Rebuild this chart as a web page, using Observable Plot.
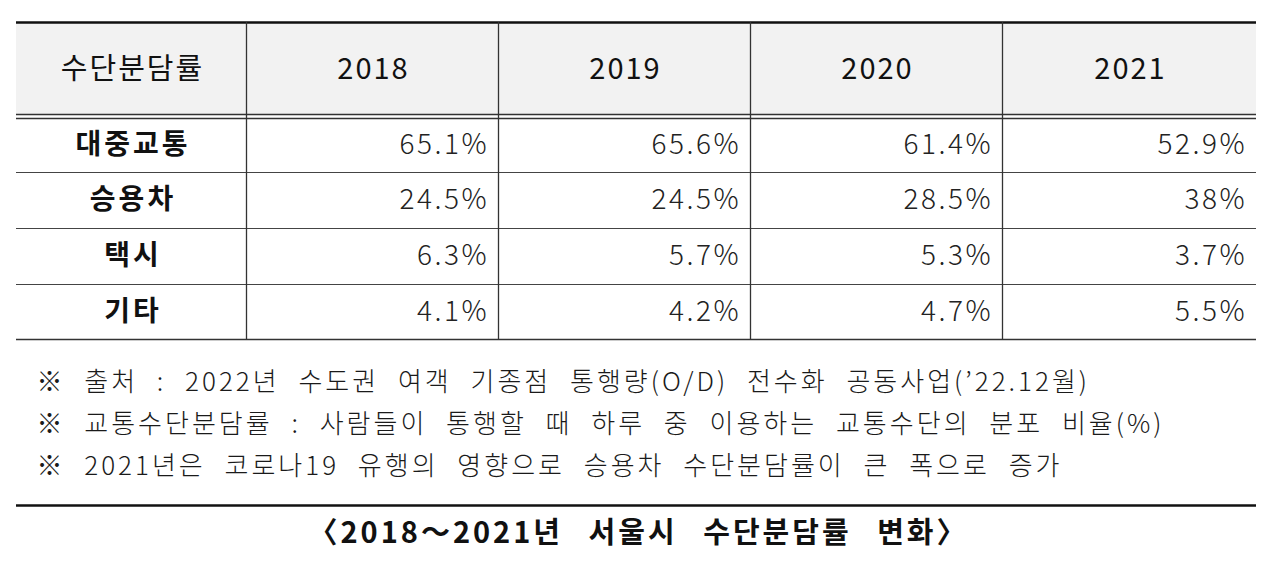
<!DOCTYPE html>
<html><head><meta charset="utf-8">
<script src="https://cdn.jsdelivr.net/npm/d3@7"></script>
<script src="https://cdn.jsdelivr.net/npm/@observablehq/plot@0.6"></script>
<style>html,body{margin:0;padding:0;background:#fff} svg{display:block}</style>
</head><body><div id="chart"></div>
<script>
// ---- data ----
const headerLabel = "수단분담률";
const years = ["2018", "2019", "2020", "2021"];
const modes = ["대중교통", "승용차", "택시", "기타"];
const share2018 = [65.1, 24.5, 6.3, 4.1];
const share2019 = [65.6, 24.5, 5.7, 4.2];
const share2020 = [61.4, 28.5, 5.3, 4.7];
const share2021 = [52.9, 38, 3.7, 5.5];
const footnotes = [
  "※ 출처 : 2022년 수도권 여객 기종점 통행량(O/D) 전수화 공동사업(’22.12월)",
  "※ 교통수단분담률 : 사람들이 통행할 때 하루 중 이용하는 교통수단의 분포 비율(%)",
  "※ 2021년은 코로나19 유행의 영향으로 승용차 수단분담률이 큰 폭으로 증가"
];
const caption = "〈2018～2021년 서울시 수단분담률 변화〉";

// ---- layout (table units) ----
const W = 1280, H = 567;
const colEdges = [16, 246, 498, 750, 1002, 1256];
const headerTop = 22, headerBottom = 114, bodyTop = 118;
const rowEdges = [bodyTop, 172, 228, 284, 339];
const footY = [382, 424, 466];
const footX = 36;
const captionRuleY = 505;
const captionY = 533;
const valueLS = 2.5;

const seriesByYear = [share2018, share2019, share2020, share2021];
const cells = [];
modes.forEach((m, i) => years.forEach((yr, j) => cells.push({
  mode: m, year: yr, value: seriesByYear[j][i],
  xr: colEdges[j + 2] - 12 + valueLS,
  yc: (rowEdges[i] + rowEdges[i + 1]) / 2
})));
const headers = [headerLabel, ...years].map((t, j) => ({
  t, xc: (colEdges[j] + colEdges[j + 1]) / 2 + 1, yc: (headerTop + headerBottom) / 2 + 1
}));
const rowLabels = modes.map((m, i) => ({
  m, xc: (colEdges[0] + colEdges[1]) / 2 + 1.5, yc: (rowEdges[i] + rowEdges[i + 1]) / 2
}));
const hLines = [
  {y: headerTop, w: 2.6, c: "#111"},
  {y: headerBottom, w: 1.4, c: "#333"},
  {y: bodyTop, w: 1.4, c: "#333"},
  ...rowEdges.slice(1, -1).map(y => ({y, w: 1.2, c: "#444"})),
  {y: rowEdges[rowEdges.length - 1], w: 1.6, c: "#333"}
];
const vLines = colEdges.slice(1, -1).map(x => ({x}));
const fmt = v => `${v}%`;
const font = "'Noto Sans CJK KR', 'Noto Sans', sans-serif";

const plot = Plot.plot({
  width: W, height: H,
  margin: 0,
  x: {type: "linear", domain: [0, W], range: [0, W], axis: null},
  y: {type: "linear", domain: [0, H], range: [0, H], axis: null},
  style: {fontFamily: font, background: "#fff"},
  marks: [
    Plot.rect([{}], {x1: colEdges[0], x2: colEdges[colEdges.length - 1], y1: headerTop, y2: headerBottom, fill: "#f2f2f2"}),
    Plot.ruleY(hLines, {y: "y", x1: colEdges[0], x2: colEdges[colEdges.length - 1], stroke: "c", strokeWidth: "w"}),
    Plot.ruleX(vLines, {x: "x", y1: headerTop, y2: rowEdges[rowEdges.length - 1], stroke: "#333", strokeWidth: 1.3}),
    Plot.text(headers, {x: "xc", y: "yc", text: "t", fontSize: 29, fill: "#111", fontWeight: 400}),
    Plot.text(rowLabels, {x: "xc", y: "yc", text: "m", fontSize: 28, fill: "#111", fontWeight: 700}),
    Plot.text(cells, {x: "xr", y: "yc", text: d => fmt(d.value), textAnchor: "end", fontSize: 28, fill: "#222", fontWeight: 300}),
    Plot.text(footnotes, {x: footX, y: (d, i) => footY[i], text: d => d, textAnchor: "start", fontSize: 26, fill: "#1a1a1a", fontWeight: 300}),
    Plot.ruleY([captionRuleY], {x1: colEdges[0], x2: colEdges[colEdges.length - 1], stroke: "#111", strokeWidth: 2.4}),
    Plot.text([caption], {x: (colEdges[0] + colEdges[colEdges.length - 1]) / 2 + 2, y: captionY, text: d => d, fontSize: 29, fontWeight: 700, fill: "#111"})
  ]
});
// letter / word spacing per text group (Plot text has no spacing option)
const valueTexts = new Set(cells.map(d => fmt(d.value)));
plot.querySelectorAll("text").forEach(t => {
  const s = t.textContent;
  let ls = null, ws = null;
  if (footnotes.includes(s)) { ls = 3; ws = 10; }
  else if (s === caption) { ls = 3; ws = 16; }
  else if (s === headerLabel || years.includes(s)) { ls = 2; }
  else if (modes.includes(s)) { ls = 3; }
  else if (valueTexts.has(s)) { ls = valueLS; }
  if (ls != null) t.style.letterSpacing = ls + "px";
  if (ws != null) t.style.wordSpacing = ws + "px";
});
document.getElementById("chart").appendChild(plot);
</script>
</body></html>
